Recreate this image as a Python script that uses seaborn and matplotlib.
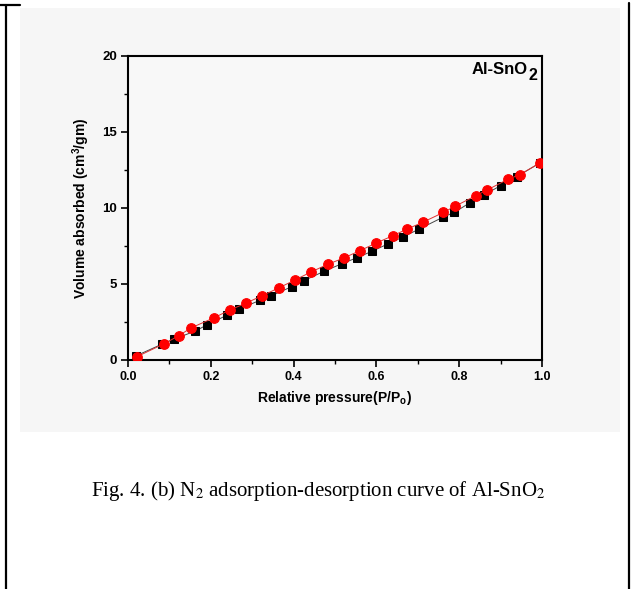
import matplotlib
matplotlib.use("Agg")
import matplotlib.pyplot as plt
import seaborn as sns
import pandas as pd
from matplotlib.patches import Rectangle
from matplotlib.lines import Line2D
from matplotlib.ticker import MultipleLocator

# Data
ads_p = [0.020, 0.081, 0.110, 0.163, 0.190, 0.240, 0.269, 0.319, 0.345, 0.395,
         0.425, 0.473, 0.517, 0.553, 0.589, 0.629, 0.664, 0.702, 0.762, 0.788,
         0.825, 0.860, 0.900, 0.939, 0.996]
ads_v = [0.28, 1.03, 1.36, 1.91, 2.30, 2.96, 3.36, 3.93, 4.21, 4.82,
         5.22, 5.83, 6.34, 6.73, 7.15, 7.65, 8.09, 8.60, 9.41, 9.71,
         10.33, 10.86, 11.47, 12.06, 12.98]
des_p = [0.022, 0.087, 0.123, 0.152, 0.208, 0.246, 0.284, 0.324, 0.364, 0.403,
         0.442, 0.482, 0.521, 0.560, 0.600, 0.640, 0.673, 0.712, 0.762, 0.791,
         0.840, 0.867, 0.918, 0.946, 0.996]
des_v = [0.22, 1.07, 1.60, 2.11, 2.78, 3.29, 3.73, 4.23, 4.74, 5.26,
         5.79, 6.29, 6.71, 7.19, 7.70, 8.18, 8.60, 9.06, 9.71, 10.13,
         10.81, 11.18, 11.89, 12.19, 12.98]
x_ticks = [0.0, 0.2, 0.4, 0.6, 0.8, 1.0]
y_ticks = [0, 5, 10, 15, 20]

sns.set_style("ticks")
plt.rcParams['font.family'] = ['Liberation Sans', 'DejaVu Sans']
plt.rcParams['mathtext.fontset'] = 'custom'
plt.rcParams['mathtext.rm'] = 'Liberation Sans:bold'
plt.rcParams['mathtext.bf'] = 'Liberation Sans:bold'
plt.rcParams['mathtext.it'] = 'Liberation Sans:bold'
for k in ['text.color', 'axes.labelcolor', 'xtick.color', 'ytick.color']:
    plt.rcParams[k] = 'black'

W, H = 632, 589
fig = plt.figure(figsize=(W / 100, H / 100), dpi=100)
fig.patch.set_facecolor('white')

# image background region
fig.patches.append(Rectangle((20 / W, 1 - 432 / H), 600 / W, 424 / H,
                             transform=fig.transFigure, facecolor='#f6f6f6',
                             edgecolor='none', zorder=-5))
# frame lines
fig.add_artist(Line2D([6 / W, 6 / W], [0, 1 - 5 / H], transform=fig.transFigure,
                      color='black', lw=1.6))
fig.add_artist(Line2D([0, 20 / W], [1 - 5 / H, 1 - 5 / H], transform=fig.transFigure,
                      color='black', lw=1.6))
fig.add_artist(Line2D([629 / W, 629 / W], [0, 1 - 3 / H], transform=fig.transFigure,
                      color='black', lw=1.6))

ax = fig.add_axes([128 / W, 1 - 360 / H, 414 / W, 304 / H])
ax.set_zorder(2)
ax.set_facecolor('#f8f8f8')

df_a = pd.DataFrame({'p': ads_p, 'v': ads_v})
df_d = pd.DataFrame({'p': des_p, 'v': des_v})
sns.lineplot(data=df_a, x='p', y='v', ax=ax, sort=False, color='#444444',
             linewidth=0.7, marker='s', markersize=6, markerfacecolor='black',
             markeredgecolor='black', zorder=3)
sns.lineplot(data=df_d, x='p', y='v', ax=ax, sort=False, color='#e03030',
             linewidth=0.7, marker='o', markersize=7, markerfacecolor='#ff0000',
             markeredgecolor='#ff0000', zorder=4)

ax.set_xlim(0, 1.0)
ax.set_ylim(0, 20)
ax.set_xticks(x_ticks)
ax.set_yticks(y_ticks)
ax.xaxis.set_minor_locator(MultipleLocator(0.1))
ax.yaxis.set_minor_locator(MultipleLocator(2.5))
ax.set_xticklabels([f"{t:.1f}" for t in x_ticks], fontweight='bold', fontsize=9)
ax.set_yticklabels([str(t) for t in y_ticks], fontweight='bold', fontsize=9.5)
ax.tick_params(which='major', direction='out', length=5, width=1.2, pad=3)
ax.tick_params(which='minor', direction='out', length=3, width=1.0)
for s in ax.spines.values():
    s.set_linewidth(1.5)
    s.set_color('black')

ax.set_xlabel(r"Relative pressure(P/P$_\mathbf{o}$)", fontweight='bold',
              fontsize=10, labelpad=4)
ax.set_ylabel(r"Volume absorbed (cm$^\mathbf{3}$/gm)", fontweight='bold',
              fontsize=10, labelpad=7)

ax.annotate("2", xy=(1.0, 1.0), xycoords='axes fraction', xytext=(-3, -9),
            textcoords='offset points', ha='right', va='top',
            fontsize=11.5, fontweight='bold')
ax.annotate("Al-SnO", xy=(1.0, 1.0), xycoords='axes fraction', xytext=(-10, -4),
            textcoords='offset points', ha='right', va='top',
            fontsize=12, fontweight='bold')

fig.text(318 / W, 1 - 491 / H,
         r"Fig. 4. (b) N$_2$ adsorption-desorption curve of Al-SnO$_2$",
         ha='center', va='center', fontsize=15, family='Liberation Serif',
         math_fontfamily='stix', color='black')

fig.savefig("out.png", dpi=100)
